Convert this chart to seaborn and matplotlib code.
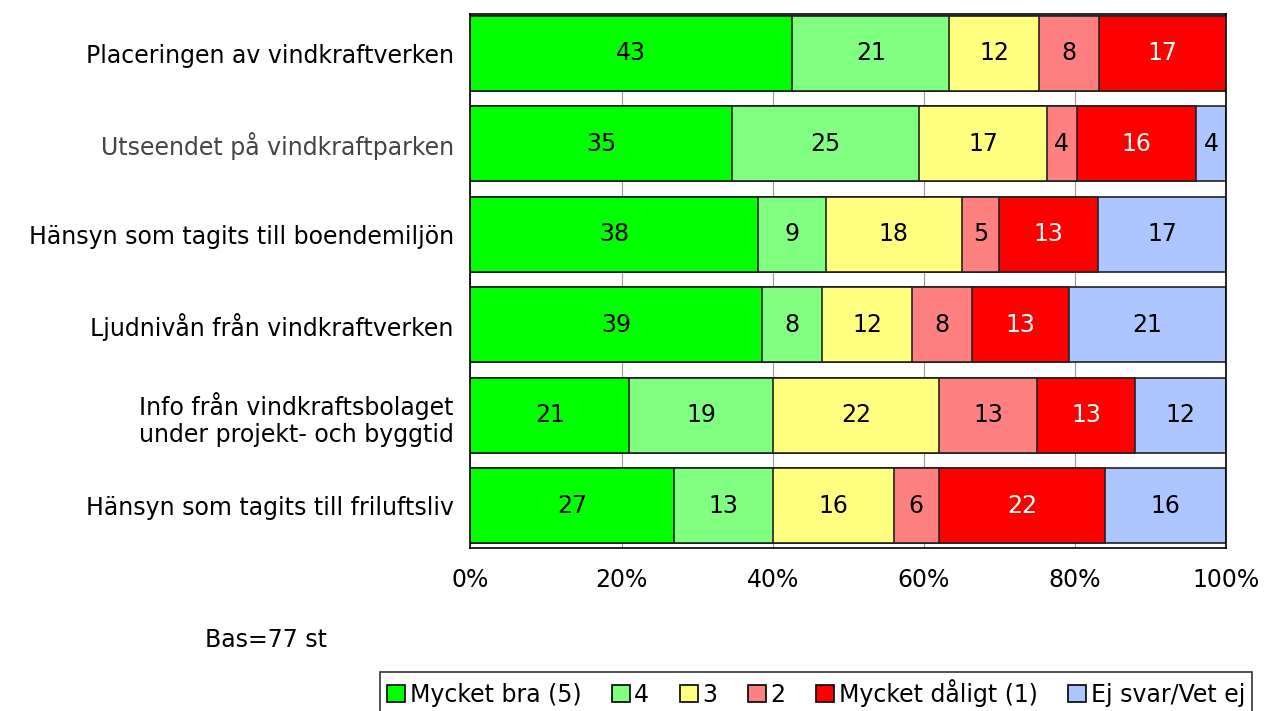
import numpy as np
import pandas as pd
import matplotlib
matplotlib.use("Agg")
import matplotlib.pyplot as plt
import seaborn as sb
from matplotlib.patches import Patch

# data (percent of respondents)
questions = [
    "Placeringen av vindkraftverken",
    "Utseendet på vindkraftparken",
    "Hänsyn som tagits till boendemiljön",
    "Ljudnivån från vindkraftverken",
    "Info från vindkraftsbolaget\nunder projekt- och byggtid",
    "Hänsyn som tagits till friluftsliv",
]
answers = ["Mycket bra (5)", "4", "3", "2", "Mycket dåligt (1)", "Ej svar/Vet ej"]
mycket_bra = [43, 35, 38, 39, 21, 27]
fyra = [21, 25, 9, 8, 19, 13]
tre = [12, 17, 18, 12, 22, 16]
tva = [8, 4, 5, 8, 13, 6]
mycket_daligt = [17, 16, 13, 13, 13, 22]
ej_svar = [0, 4, 17, 21, 12, 16]

colors = ["#00FF00", "#80FF80", "#FFFF80", "#FF8080", "#FF0000", "#ADC6FF"]
text_colors = ["black", "black", "black", "black", "white", "black"]

vals = pd.DataFrame(
    np.array([mycket_bra, fyra, tre, tva, mycket_daligt, ej_svar]).T,
    index=questions, columns=answers, dtype=float)
# rows are rounded, scale each to 100 %
shares = vals.div(vals.sum(axis=1), axis=0) * 100
cum = shares.cumsum(axis=1)

sb.set_theme(style="white")
plt.rcParams["font.family"] = ["DejaVu Sans"]
plt.rcParams["text.color"] = "black"
plt.rcParams["xtick.color"] = "black"
plt.rcParams["ytick.color"] = "black"

fs = 17

fig, ax = plt.subplots(figsize=(12.68, 7.11), dpi=100)
fig.subplots_adjust(left=0.371, right=0.967, top=0.980, bottom=0.229)

# stacked bars: draw cumulative totals from the last answer to the first
for i in reversed(range(len(answers))):
    d = pd.DataFrame({"q": questions, "v": cum.iloc[:, i].values})
    sb.barplot(data=d, x="v", y="q", orient="h", color=colors[i], width=0.83,
               saturation=1, edgecolor="#222222", linewidth=1.2, ax=ax, zorder=2)

# value labels
for r, q in enumerate(questions):
    for i, a in enumerate(answers):
        v = vals.loc[q, a]
        if v <= 0:
            continue
        x = cum.loc[q, a] - shares.loc[q, a] / 2
        ax.text(x, r, f"{v:.0f}", ha="center", va="center", fontsize=fs,
                color=text_colors[i], zorder=5)

ax.set_xlim(0, 100)
ax.set_ylim(5.47, -0.43)
ax.set_xticks([0, 20, 40, 60, 80, 100])
ax.set_xticklabels(["0%", "20%", "40%", "60%", "80%", "100%"], fontsize=fs)
ax.tick_params(axis="x", pad=14, length=0)
ax.tick_params(axis="y", length=0, pad=12)
ax.set_yticks(range(len(questions)))
ax.set_yticklabels(questions, fontsize=fs, multialignment="center")
ax.get_yticklabels()[1].set_color("#444444")

ax.set_xlabel("")
ax.set_ylabel("")
ax.xaxis.grid(True, color="#999999", linewidth=0.8, zorder=0)
ax.set_axisbelow(True)
for s in ax.spines.values():
    s.set_color("black")
    s.set_linewidth(1.2)

fig.text(205 / 1268, 1 - 640 / 711, "Bas=77 st", fontsize=fs, va="center")

handles = [Patch(facecolor=c, edgecolor="black", linewidth=1.2) for c in colors]
leg = fig.legend(handles, answers, loc="upper left", ncol=6,
                 bbox_to_anchor=(380 / 1268, 1 - 672 / 711), fontsize=fs,
                 frameon=True, fancybox=False, edgecolor="black",
                 handlelength=0.75, handleheight=0.75, handletextpad=0.2,
                 columnspacing=1.3, borderpad=0.3, borderaxespad=0)
leg.get_frame().set_linewidth(1.2)

fig.savefig("out.png", dpi=100)
